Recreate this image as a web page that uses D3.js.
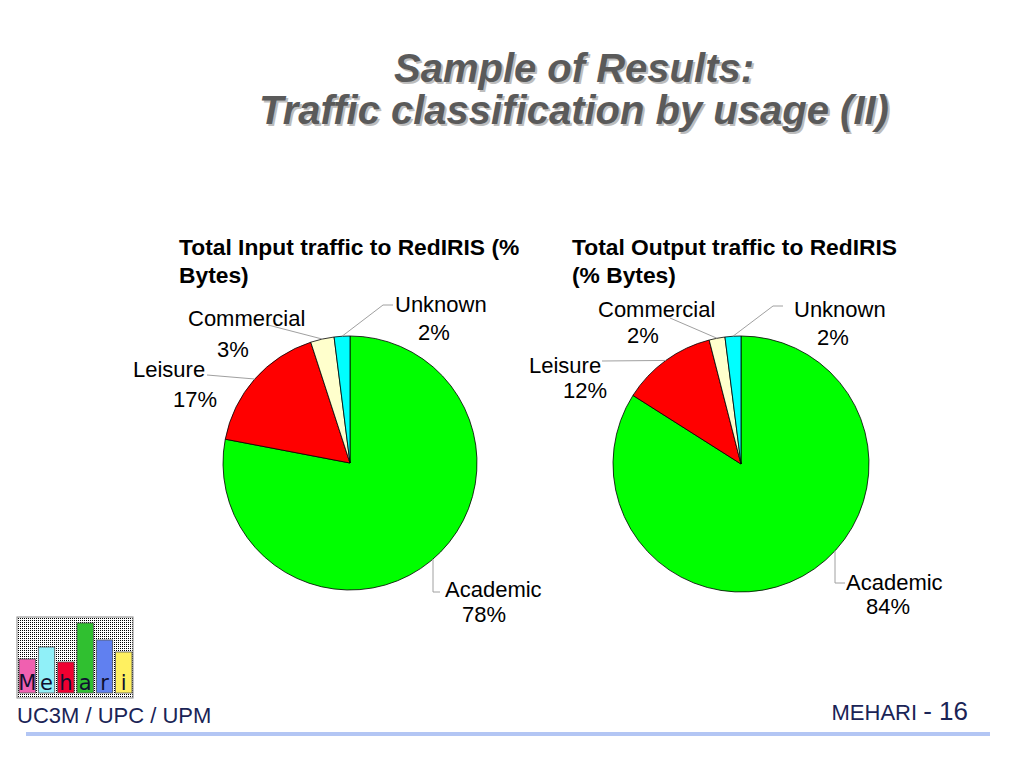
<!DOCTYPE html>
<html>
<head>
<meta charset="utf-8">
<script src="https://cdn.jsdelivr.net/npm/d3@7"></script>
<style>
  body { margin: 0; background: #fff; }
  text { font-family: "Liberation Sans", Arial, sans-serif; }
</style>
</head>
<body>
<script>
// slide: two pies of RedIRIS traffic by usage

var categories = ["Academic", "Leisure", "Commercial", "Unknown"],
    inputValues = [78, 17, 3, 2],
    outputValues = [84, 12, 2, 2],
    sliceColors = ["#00ff00", "#ff0000", "#ffffcc", "#00ffff"];

var logoLetters = ["M", "e", "h", "a", "r", "i"],
    logoHeights = [34, 46, 31, 70, 53, 41],
    logoColors = ["#f060b0", "#90f0f8", "#f00030", "#30c030", "#6080f0", "#fff060"];

var w = 1024, h = 768;

var svg = d3.select("body").append("svg")
    .attr("width", w)
    .attr("height", h);

// dotted background for the logo
var pat = svg.append("defs").append("pattern")
    .attr("id", "dots")
    .attr("width", 2).attr("height", 2)
    .attr("patternUnits", "userSpaceOnUse");
pat.append("rect").attr("width", 2).attr("height", 2).attr("fill", "#fff");
pat.append("rect").attr("width", 1).attr("height", 1).attr("fill", "#000");

// main title with shadow
var titleLines = ["Sample of Results:", "Traffic classification by usage (II)"];
[["#bdbdbd", 2], ["#5a5a5a", 0]].forEach(function(s){
  svg.selectAll(null).data(titleLines).enter().append("text")
    .attr("x", 574 + s[1])
    .attr("y", function(d, i){ return 82 + i*42 + s[1]; })
    .attr("text-anchor", "middle")
    .style("font-size", "40px")
    .style("font-weight", "bold")
    .style("font-style", "italic")
    .style("fill", s[0])
    .text(function(d){ return d; });
});

// layout of each pie: centre, radius, title and where the labels sit
var pies = [
  { values: inputValues, cx: 350, cy: 463, r: 127,
    title: ["Total Input traffic to RedIRIS (%", "Bytes)"], tx: 179,
    labels: [
      { nx: 445, ny: 597, px: 462, py: 622, vert: 433, pts: [[433, 592], [440, 592]] },
      { nx: 133, ny: 377, px: 173, py: 407, pts: [[207, 375]] },
      { nx: 188, ny: 326, px: 217, py: 357, pts: [[268, 325]] },
      { nx: 395, ny: 312, px: 418, py: 340, pts: [[383, 305], [393, 305]] }
    ] },
  { values: outputValues, cx: 741, cy: 464, r: 128,
    title: ["Total Output traffic to RedIRIS", "(% Bytes)"], tx: 572,
    labels: [
      { nx: 846, ny: 590, px: 866, py: 614, vert: 835, pts: [[835, 583], [845, 583]] },
      { nx: 529, ny: 373, px: 563, py: 398, pts: [[602, 361]] },
      { nx: 598, ny: 317, px: 627, py: 343, pts: [[670, 318]] },
      { nx: 794, ny: 317, px: 817, py: 345, pts: [[773, 306], [783, 306]] }
    ] }
];

var pie = d3.pie().sort(null).value(function(d){ return d; });

pies.forEach(function(p){
  svg.selectAll(null).data(p.title).enter().append("text")
    .attr("x", p.tx)
    .attr("y", function(d, i){ return 255 + i*28; })
    .style("font-size", "22.8px")
    .style("font-weight", "bold")
    .text(function(d){ return d; });

  var arc = d3.arc().innerRadius(0).outerRadius(p.r);
  var g = svg.append("g").attr("transform", "translate(" + p.cx + "," + p.cy + ")");
  var arcs = pie(p.values);

  g.selectAll("path").data(arcs).enter().append("path")
    .attr("d", arc)
    .attr("fill", function(d, i){ return sliceColors[i]; })
    .attr("stroke", "#000")
    .attr("stroke-width", 0.8);

  // leader lines
  arcs.forEach(function(a, i){
    var lab = p.labels[i], start;
    if(lab.vert !== undefined){
      var dx = lab.vert - p.cx;
      start = [lab.vert, p.cy + Math.sqrt(p.r*p.r - dx*dx)];
    } else {
      var m = (a.startAngle + a.endAngle)/2;
      start = [p.cx + p.r*Math.sin(m), p.cy - p.r*Math.cos(m)];
    }
    svg.append("path")
      .attr("d", d3.line()([start].concat(lab.pts)))
      .attr("fill", "none")
      .attr("stroke", "#a0a0a0")
      .attr("stroke-width", 1);

    svg.append("text").attr("x", lab.nx).attr("y", lab.ny)
      .style("font-size", "22px").text(categories[i]);
    svg.append("text").attr("x", lab.px).attr("y", lab.py)
      .style("font-size", "22px").text(Math.round(a.value) + "%");
  });
});

// logo
svg.append("rect")
  .attr("x", 17).attr("y", 617).attr("width", 116).attr("height", 81)
  .attr("fill", "url(#dots)")
  .attr("stroke", "#888").attr("stroke-width", 1);

var bx = d3.scaleBand().domain(d3.range(6)).range([19, 132]).paddingInner(0.15);
var by = d3.scaleLinear().domain([0, 70]).range([693, 623]);

svg.selectAll(".logobar").data(logoHeights).enter().append("rect")
  .attr("class", "logobar")
  .attr("x", function(d, i){ return bx(i); })
  .attr("y", function(d){ return by(d); })
  .attr("width", bx.bandwidth())
  .attr("height", function(d){ return by(0) - by(d); })
  .attr("fill", function(d, i){ return logoColors[i]; })
  .attr("stroke", "#555").attr("stroke-width", 0.8);

svg.selectAll(".logoletter").data(logoLetters).enter().append("text")
  .attr("class", "logoletter")
  .attr("x", function(d, i){ return bx(i) + bx.bandwidth()/2; })
  .attr("y", 690)
  .attr("text-anchor", "middle")
  .style("font-family", "'DejaVu Sans', sans-serif")
  .style("font-size", "21px")
  .style("fill", "#101030")
  .text(function(d){ return d; });

// footer
svg.append("line")
  .attr("x1", 26).attr("x2", 990).attr("y1", 734).attr("y2", 734)
  .attr("stroke", "#b3c6f4").attr("stroke-width", 4);

svg.append("text").attr("x", 17).attr("y", 723)
  .style("font-size", "22px").style("fill", "#1a2456")
  .text("UC3M / UPC / UPM");

var ft = svg.append("text").attr("x", 968).attr("y", 720)
  .attr("text-anchor", "end")
  .style("fill", "#1a2456");
ft.append("tspan").style("font-size", "22px").text("MEHARI  ");
ft.append("tspan").style("font-size", "26px").text("- 16");
</script>
</body>
</html>
